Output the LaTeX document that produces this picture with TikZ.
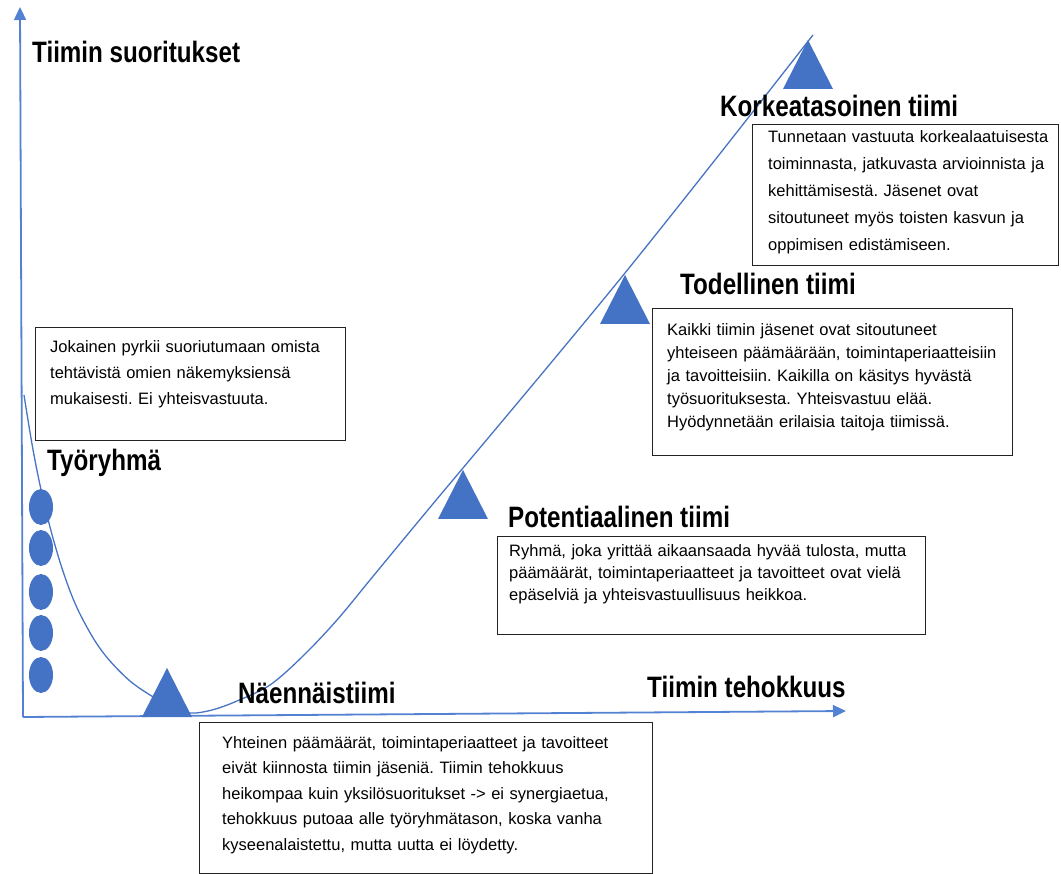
\documentclass[tikz,border=0pt]{standalone}
\usepackage{fontspec}
\setmainfont{Liberation Sans}
\newfontfamily\headfont[FakeStretch=0.82]{Liberation Sans}
\definecolor{markblue}{RGB}{68,114,196}
\definecolor{curveblue}{RGB}{72,116,196}
\definecolor{axisblue}{RGB}{84,130,210}
\definecolor{boxline}{RGB}{35,35,35}
\usetikzlibrary{arrows.meta}
\frenchspacing

\begin{document}
\begin{tikzpicture}[x=1pt, y=-1pt,
    axisline/.style={draw=axisblue, line width=1.8pt, -{Triangle[length=13pt,width=12pt]}},
    growth/.style={draw=curveblue, line width=1.3pt},
    stagemark/.style={fill=markblue},
    member/.style={fill=markblue},
    stagelabel/.style={font=\headfont\bfseries\fontsize{29.5}{32}\selectfont, inner sep=0pt, anchor=base west},
    infobox/.style={draw=boxline, line width=1.3pt, fill=white, inner sep=0pt, anchor=north west},
    infotext/.style={font=\fontsize{16.5}{#1}\selectfont, align=left, text width=480pt, inner sep=0pt, anchor=base west},
    infotext/.default=25]
  \useasboundingbox (0,0) rectangle (1061,874);

  \coordinate (origin) at (23,717);
  \coordinate (ytip) at (20,7);
  \coordinate (xtip) at (846,711);
  \draw[axisline] (origin) -- (ytip);
  \draw[axisline] (origin) -- (xtip);

  \draw[growth] plot[smooth, tension=0.55] coordinates {(24,395) (32,444) (40,485) (50,527) (60,562) (70,591) (80,614) (95,641) (110,661) (130,681) (150,695) (170,706) (190,713) (212,710) (237,701) (270,685) (303,656) (337,620) (370,580) (403,540) (437,499) (463,468) (545,370) (625,273) (715,160) (813,35)};

  \foreach \tx/\ty in {167/668, 463/470, 625/275, 808/40}
    \fill[stagemark] (\tx,\ty) -- ++(-25,49) -- ++(50,0) -- cycle;
  \foreach \cy in {507,548,592,633,675}
    \fill[member] (41,\cy) ellipse [x radius=12pt, y radius=18pt];

  \node[stagelabel] (ylabel) at (32,63) {Tiimin suoritukset};
  \node[stagelabel] (xlabel) at (647,697) {Tiimin tehokkuus};

  \node[infobox, minimum width=310pt, minimum height=113pt] (groupbox) at (35,327) {};
  \node[infotext=26] (grouptext) at (50,353) {Jokainen pyrkii suoriutumaan omista\\tehtävistä omien näkemyksiensä\\mukaisesti. Ei yhteisvastuuta.};
  \node[stagelabel] (grouplabel) at (47,471) {Työryhmä};

  \node[infobox, minimum width=453pt, minimum height=151pt] (pseudobox) at (199,722) {};
  \node[infotext=25.5] (pseudotext) at (222,748) {Yhteinen päämäärät, toimintaperiaatteet ja tavoitteet\\eivät kiinnosta tiimin jäseniä. Tiimin tehokkuus\\heikompaa kuin yksilösuoritukset -> ei synergiaetua,\\tehokkuus putoaa alle työryhmätason, koska vanha\\kyseenalaistettu, mutta uutta ei löydetty.};
  \node[stagelabel] (pseudolabel) at (238,703) {Näennäistiimi};

  \node[infobox, minimum width=428pt, minimum height=98pt] (potbox) at (497,536) {};
  \node[infotext=22] (pottext) at (509,556) {Ryhmä, joka yrittää aikaansaada hyvää tulosta, mutta\\päämäärät, toimintaperiaatteet ja tavoitteet ovat vielä\\epäselviä ja yhteisvastuullisuus heikkoa.};
  \node[stagelabel] (potlabel) at (508,528) {Potentiaalinen tiimi};

  \node[infobox, minimum width=360pt, minimum height=147pt] (realbox) at (652,308) {};
  \node[infotext=23] (realtext) at (667,336) {Kaikki tiimin jäsenet ovat sitoutuneet\\yhteiseen päämäärään, toimintaperiaatteisiin\\ja tavoitteisiin. Kaikilla on käsitys hyvästä\\työsuorituksesta. Yhteisvastuu elää.\\Hyödynnetään erilaisia taitoja tiimissä.};
  \node[stagelabel] (reallabel) at (680,295) {Todellinen tiimi};

  \node[infobox, minimum width=306pt, minimum height=141pt] (highbox) at (752,124) {};
  \node[infotext=27] (hightext) at (768,143) {Tunnetaan vastuuta korkealaatuisesta\\toiminnasta, jatkuvasta arvioinnista ja\\kehittämisestä. Jäsenet ovat\\sitoutuneet myös toisten kasvun ja\\oppimisen edistämiseen.};
  \node[stagelabel] (highlabel) at (720,117) {Korkeatasoinen tiimi};
\end{tikzpicture}
\end{document}
